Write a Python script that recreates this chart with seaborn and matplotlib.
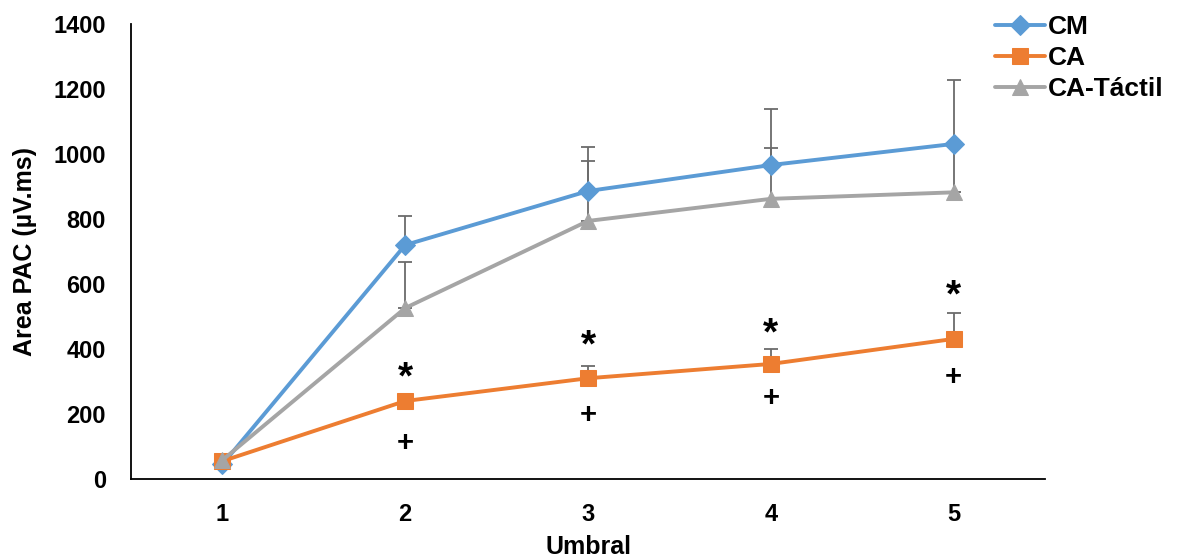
import matplotlib
matplotlib.use("Agg")
import matplotlib.pyplot as plt
import seaborn as sns
import numpy as np

# ---- data ----
umbral = [1, 2, 3, 4, 5]
cm_vals = [45, 720, 886, 966, 1031]
cm_err = [0, 89, 136, 172, 196]
ca_vals = [55, 240, 310, 354, 431]
ca_err = [0, 8, 38, 46, 80]
cat_vals = [58, 526, 794, 862, 882]
cat_err = [0, 141, 184, 156, 150]
series_names = ["CM", "CA", "CA-Táctil"]
star_y = [345, 443, 480, 597]
plus_y = [111, 197, 249, 314]
sig_x = [2, 3, 4, 5]
y_ticks = [0, 200, 400, 600, 800, 1000, 1200, 1400]

sns.set_theme(style="white")
plt.rcParams['font.family'] = ['Liberation Sans', 'DejaVu Sans']
plt.rcParams['font.weight'] = 'bold'
plt.rcParams['text.color'] = 'black'
plt.rcParams['axes.labelcolor'] = 'black'

fig = plt.figure(figsize=(11.83, 5.59), dpi=100)
ax = fig.add_axes([0.1107, 0.1431, 0.7727, 0.814])

colors = ["#5B9BD5", "#ED7D31", "#A5A5A5"]
markers = ["D", "s", "^"]
msizes = [10, 11, 12]
vals = [cm_vals, ca_vals, cat_vals]
errs = [cm_err, ca_err, cat_err]

# error bars (plus direction only) behind lines
for v, e in zip(vals, errs):
    ax.errorbar(umbral, v, yerr=[np.zeros(len(e)), e], fmt='none',
                ecolor="#6B6B6B", elinewidth=1.3, capsize=4.8, capthick=1.3, zorder=1)

for name, v, c, m, ms in zip(series_names, vals, colors, markers, msizes):
    sns.lineplot(x=umbral, y=v, ax=ax, color=c, marker=m, markersize=ms,
                 markeredgecolor=c, linewidth=2.8, label=name, zorder=3)

for xs, ys in zip(sig_x, star_y):
    ax.annotate("*", (xs, ys), xytext=(0, -8), textcoords="offset points",
                ha="center", va="center", fontsize=28, fontweight="bold", color="black")
for xs, ys in zip(sig_x, plus_y):
    ax.text(xs, ys, "+", ha="center", va="center", fontsize=21, fontweight="bold", color="black")

ax.set_xlim(0.5, 5.5)
ax.set_ylim(0, 1400)
ax.set_xticks(umbral)
ax.set_yticks(y_ticks)
ax.tick_params(axis='both', direction='out', length=4, width=1.2, colors='black',
               labelsize=17, pad=14)
ax.tick_params(axis='x', pad=13)
for lab in ax.get_xticklabels() + ax.get_yticklabels():
    lab.set_fontweight('bold')

for s in ["top", "right"]:
    ax.spines[s].set_visible(False)
for s in ["left", "bottom"]:
    ax.spines[s].set_color("black")
    ax.spines[s].set_linewidth(1.3)

ax.set_xlabel("Umbral", fontsize=18, fontweight="bold", labelpad=7)
ax.set_ylabel("Area PAC (µV.ms)", fontsize=18, fontweight="bold", labelpad=12)

leg = ax.legend(loc="upper left", bbox_to_anchor=(0.945, 1.02), frameon=False,
                fontsize=19, handlelength=1.9, handletextpad=0.1, labelspacing=0.27,
                borderpad=0, borderaxespad=0)
for t in leg.get_texts():
    t.set_fontweight("bold")
    t.set_color("black")

fig.savefig("out.png", dpi=100)
